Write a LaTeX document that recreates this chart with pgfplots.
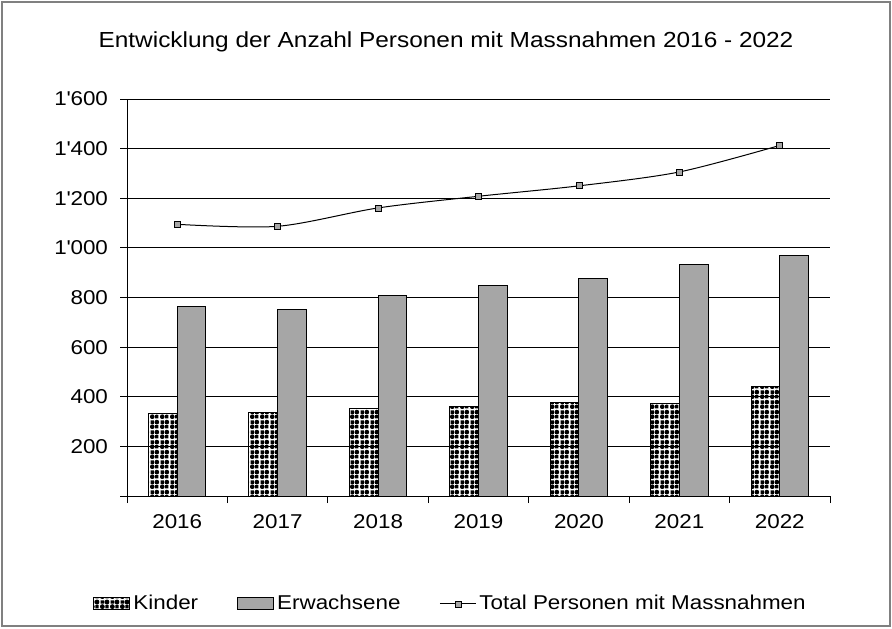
\documentclass[border=0pt]{standalone}
\usepackage{pgfplots}
\pgfplotsset{compat=1.18}
\usepackage{fontspec}
\setmainfont{Liberation Sans}[FakeStretch=1.12]
\usetikzlibrary{patterns}

% dotted checker fill like the Excel "Kinder" bars
\pgfdeclarepatternformonly{balls}{\pgfqpoint{0pt}{0pt}}{\pgfqpoint{5pt}{5pt}}{\pgfqpoint{5pt}{5pt}}{%
  \pgfpathcircle{\pgfqpoint{1.25pt}{1.25pt}}{1.3pt}%
  \pgfpathcircle{\pgfqpoint{3.75pt}{3.75pt}}{1.3pt}%
  \pgfpathrectangle{\pgfqpoint{2.85pt}{0.35pt}}{\pgfqpoint{1.8pt}{1.8pt}}%
  \pgfpathrectangle{\pgfqpoint{0.35pt}{2.85pt}}{\pgfqpoint{1.8pt}{1.8pt}}%
  \pgfusepath{fill}}

\definecolor{barGray}{RGB}{166,166,166}
\definecolor{frameGray}{RGB}{128,128,128}

\pgfplotsset{
  boxlegend/.style={legend image code/.code={\draw[##1] (0pt,-3pt) rectangle (18pt,3pt);}},
  linelegend/.style={legend image code/.code={\draw[##1] (0pt,0pt) -- (18pt,0pt);
      \draw[##1,mark repeat=1] plot coordinates {(9pt,0pt)};}},
}

\begin{document}
\begin{tikzpicture}[font=\fontsize{10}{12}\selectfont]
\useasboundingbox (0,0) rectangle (446pt,314pt);
\draw[frameGray,line width=0.6pt] (1pt,1pt) rectangle (445pt,313pt);
\node[font=\fontsize{10.9}{13}\selectfont] at (223pt,293pt) {Entwicklung der Anzahl Personen mit Massnahmen 2016 - 2022};

\begin{axis}[
  at={(63.5pt,66pt)},anchor=south west,
  scale only axis,width=351.5pt,height=198.5pt,
  xmin=-0.5,xmax=6.5,ymin=0,ymax=1600,
  axis x line*=bottom,axis y line*=left,
  axis line style={black,line width=0.5pt,-},
  xtick={0,...,6},
  xticklabels={2016,2017,2018,2019,2020,2021,2022},
  minor xtick={-0.5,0.5,...,6.5},
  major x tick style={draw=none},
  minor x tick style={black,line width=0.5pt},
  ytick={0,200,...,1600},
  yticklabels={,200,400,600,800,1\textquotesingle000,1\textquotesingle200,1\textquotesingle400,1\textquotesingle600},
  y tick style={black,line width=0.5pt},
  tick align=outside,
  major tick length=3.5pt,minor tick length=3.5pt,
  ymajorgrids,
  major grid style={black,line width=0.5pt},
  tick label style={font=\fontsize{10}{12}\selectfont},
  yticklabel style={xshift=-2.5pt},
  xticklabel style={yshift=-2pt},
  legend style={draw=none,fill=none,at={(axis description cs:0.461,-0.272)},anchor=center,
    legend columns=3,font=\fontsize{10}{12}\selectfont,
    /tikz/every even column/.append style={column sep=18pt},
    nodes={inner xsep=1.5pt}},
  legend cell align=left,
]
\addplot[ybar,bar width=14.35pt,bar shift=-7.175pt,draw=black,line width=0.5pt,pattern=balls,boxlegend]
coordinates {(0,333) (1,337) (2,351) (3,361) (4,375) (5,371) (6,443)};
\addlegendentry{Kinder}
\addplot[ybar,bar width=14.35pt,bar shift=7.175pt,draw=black,line width=0.5pt,fill=barGray,boxlegend]
coordinates {(0,762) (1,750) (2,810) (3,847) (4,875) (5,935) (6,970)};
\addlegendentry{Erwachsene}
\addplot[black,line width=0.5pt,smooth,mark=square*,mark size=1.5pt,
  mark options={fill=barGray,draw=black,line width=0.4pt},linelegend]
coordinates {(0,1095) (1,1087) (2,1161) (3,1208) (4,1250) (5,1306) (6,1413)};
\addlegendentry{Total Personen mit Massnahmen}
\end{axis}
\end{tikzpicture}
\end{document}
